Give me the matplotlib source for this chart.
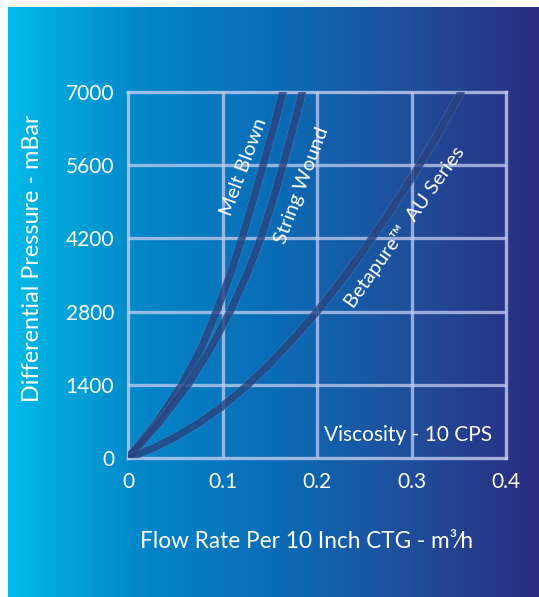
import numpy as np
import matplotlib
matplotlib.use("Agg")
import matplotlib.pyplot as plt
from matplotlib.colors import LinearSegmentedColormap
import matplotlib.patheffects as pe

plt.rcParams['font.family'] = ['Lato', 'DejaVu Sans']

# Data (flow rate m3/h, differential pressure mBar)
pressure_steps = [0, 700, 1400, 2100, 2800, 3500, 4200, 4900, 5600, 6300, 7000]
melt_q = [0, 0.031, 0.057, 0.0775, 0.0935, 0.108, 0.1205, 0.132, 0.1430, 0.1537, 0.164]
melt_p = pressure_steps
string_q = [0, 0.034, 0.0635, 0.0875, 0.108, 0.1255, 0.1405, 0.1528, 0.1640, 0.1745, 0.1845]
string_p = pressure_steps
beta_q = [0, 0.025, 0.05, 0.075, 0.1, 0.125, 0.15, 0.175, 0.2, 0.225, 0.25, 0.275, 0.3, 0.325, 0.35, 0.3525]
beta_p = [0, 175, 400, 670, 990, 1370, 1800, 2280, 2800, 3370, 3990, 4650, 5350, 6100, 6920, 7000]

x_ticks = [0, 0.1, 0.2, 0.3, 0.4]
x_labels = ['0', '0.1', '0.2', '0.3', '0.4']
y_ticks = [0, 1400, 2800, 4200, 5600, 7000]
y_labels = ['0', '1400', '2800', '4200', '5600', '7000']

W, H = 539, 597
fig = plt.figure(figsize=(W / 100, H / 100), dpi=100)
fig.patch.set_facecolor('white')

# gradient background
bg = fig.add_axes([8 / W, 0, (W - 8) / W, (H - 7) / H])
cmap = LinearSegmentedColormap.from_list('g', ['#00bbe7', '#0386c8', '#0a6cb6', '#1f4f9c', '#2b2c80'])
grad = np.linspace(0, 1, 512).reshape(1, -1)
bg.imshow(grad, aspect='auto', cmap=cmap, extent=[0, 1, 0, 1])
bg.set_axis_off()

ax = fig.add_axes([128 / W, 139 / H, 378 / W, 366 / H])
ax.set_facecolor('none')
ax.set_xlim(0, 0.4)
ax.set_ylim(0, 7000)

grid_col = '#c3cdf0'
for v in x_ticks[1:-1]:
    ax.axvline(v, color=grid_col, alpha=0.75, lw=2.4, zorder=1)
for v in y_ticks[1:-1]:
    ax.axhline(v, color=grid_col, alpha=0.75, lw=2.4, zorder=1)
for s in ax.spines.values():
    s.set_color(grid_col)
    s.set_alpha(0.8)
    s.set_linewidth(2.4)

line_col = '#1d3a78'
effects = [pe.Stroke(linewidth=6.3, foreground='#8ea0d0', alpha=0.3), pe.Normal()]
for q, p in [(melt_q, melt_p), (string_q, string_p), (beta_q, beta_p)]:
    ax.plot(q, p, color=line_col, alpha=0.72, lw=5.4, solid_capstyle='round',
            solid_joinstyle='round', zorder=3, path_effects=effects)

ax.set_xticks(x_ticks)
ax.set_xticklabels(x_labels)
ax.set_yticks(y_ticks)
ax.set_yticklabels(y_labels)
ax.tick_params(length=0, labelsize=15, colors='white', pad=10)

fig.text(306 / W, 1 - 542 / H, 'Flow Rate Per 10 Inch CTG - m³⁄h', color='white',
         fontsize=16.3, ha='center', va='center')
fig.text(33 / W, 1 - 258 / H, 'Differential Pressure - mBar', color='white',
         fontsize=16.8, ha='center', va='center', rotation=90)

ax.text(0.1228, 5566, 'Melt Blown', color='white', fontsize=14.5, rotation=69.5,
        ha='center', va='center', rotation_mode='anchor', zorder=5)
ax.text(0.184, 5221, 'String Wound', color='white', fontsize=14.5, rotation=69.3,
        ha='center', va='center', rotation_mode='anchor', zorder=5)
ax.text(0.293, 4418, 'Betapure™  AU Series', color='white', fontsize=14.5, rotation=54.6,
        ha='center', va='center', rotation_mode='anchor', zorder=5)
ax.text(0.296, 440, 'Viscosity - 10 CPS', color='white', fontsize=15,
        ha='center', va='center', zorder=5)

fig.savefig('out.png', dpi=100, facecolor=fig.get_facecolor())
